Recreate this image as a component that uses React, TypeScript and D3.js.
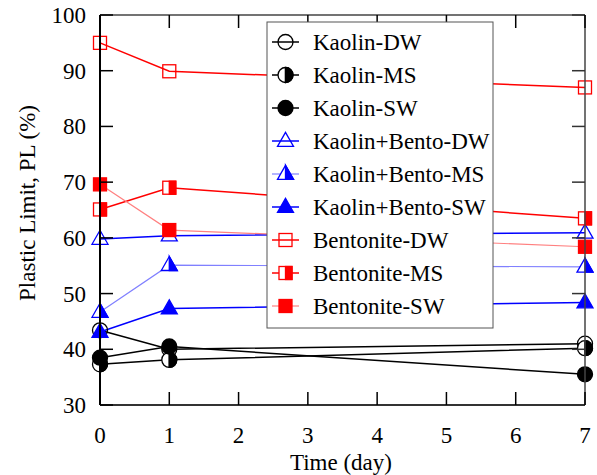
import React from "react";
import * as d3 from "d3";

const days = [0, 1, 7];
const xTicks = [0, 1, 2, 3, 4, 5, 6, 7];
const yTicks = [30, 40, 50, 60, 70, 80, 90, 100];

const kaolinDW = [43.4, 40.0, 41.0];
const kaolinMS = [37.3, 38.1, 40.2];
const kaolinSW = [38.5, 40.5, 35.5];
const kbDW = [59.8, 60.4, 60.9];
const kbMS = [46.7, 55.1, 54.8];
const kbSW = [43.1, 47.3, 48.4];
const benDW = [95.0, 89.9, 87.0];
const benMS = [65.1, 69.0, 63.5];
const benSW = [69.6, 61.4, 58.4];

type Shape = "circle" | "triangle" | "square";
type Fill = "open" | "half" | "full";

const series: { name: string; values: number[]; color: string; lineColor: string; lw: number; shape: Shape; fill: Fill }[] = [
  { name: "Kaolin-DW", values: kaolinDW, color: "#000", lineColor: "#000", lw: 1.5, shape: "circle", fill: "open" },
  { name: "Kaolin-MS", values: kaolinMS, color: "#000", lineColor: "#000", lw: 1.5, shape: "circle", fill: "half" },
  { name: "Kaolin-SW", values: kaolinSW, color: "#000", lineColor: "#000", lw: 1.5, shape: "circle", fill: "full" },
  { name: "Kaolin+Bento-DW", values: kbDW, color: "#0000ff", lineColor: "#0000ff", lw: 1.5, shape: "triangle", fill: "open" },
  { name: "Kaolin+Bento-MS", values: kbMS, color: "#0000ff", lineColor: "#8080ff", lw: 1.2, shape: "triangle", fill: "half" },
  { name: "Kaolin+Bento-SW", values: kbSW, color: "#0000ff", lineColor: "#0000ff", lw: 1.5, shape: "triangle", fill: "full" },
  { name: "Bentonite-DW", values: benDW, color: "#ff0000", lineColor: "#ff0000", lw: 1.5, shape: "square", fill: "open" },
  { name: "Bentonite-MS", values: benMS, color: "#ff0000", lineColor: "#ff0000", lw: 1.5, shape: "square", fill: "half" },
  { name: "Bentonite-SW", values: benSW, color: "#ff0000", lineColor: "#ff8080", lw: 1.2, shape: "square", fill: "full" },
];

const W = 597, H = 475;
const x = d3.scaleLinear().domain([0, 7]).range([100, 585]);
const y = d3.scaleLinear().domain([30, 100]).range([405, 15]);
const FONT = "'Liberation Serif', 'Times New Roman', serif";
const FS = 23;

function Marker({ cx, cy, shape, fill, color }: { cx: number; cy: number; shape: Shape; fill: Fill; color: string }) {
  const sw = 1.3;
  if (shape === "circle") {
    const r = 7.5;
    return (
      <g>
        <circle cx={cx} cy={cy} r={r} fill={fill === "full" ? color : fill === "half" ? "#fff" : "none"} stroke={color} strokeWidth={sw} />
        {fill === "half" && (
          <path d={`M${cx},${cy - r} A${r},${r} 0 0 1 ${cx},${cy + r} Z`} fill={color} stroke={color} strokeWidth={sw} />
        )}
        {fill === "half" && <line x1={cx} x2={cx} y1={cy - r} y2={cy + r} stroke={color} strokeWidth={sw} />}
      </g>
    );
  }
  if (shape === "square") {
    const s = 13;
    return (
      <g>
        <rect x={cx - s / 2} y={cy - s / 2} width={s} height={s} fill={fill === "full" ? color : fill === "half" ? "#fff" : "none"} stroke={color} strokeWidth={sw} />
        {fill === "half" && <rect x={cx} y={cy - s / 2} width={s / 2} height={s} fill={color} stroke={color} strokeWidth={sw} />}
      </g>
    );
  }
  const w = 16, h = 14;
  const top = cy - h * 0.62, bot = cy + h * 0.38;
  return (
    <g>
      <path d={`M${cx},${top} L${cx + w / 2},${bot} L${cx - w / 2},${bot} Z`} fill={fill === "full" ? color : fill === "half" ? "#fff" : "none"} stroke={color} strokeWidth={sw} strokeLinejoin="miter" />
      {fill === "half" && <path d={`M${cx},${top} L${cx + w / 2},${bot} L${cx},${bot} Z`} fill={color} stroke={color} strokeWidth={sw} />}
    </g>
  );
}

export default function App() {
  const line = d3.line<number>().x((_, i) => x(days[i])).y((v) => y(v));
  const tickLen = 13;
  const legX = 267, legY = 22, legW = 226, legH = 306;
  const rowH = 33;
  return (
    <svg width={W} height={H} style={{ display: "block", position: "absolute", left: 0, top: 0, background: "#fff" }} fontFamily={FONT}>
      {series.map((s) => (
        <path key={s.name + "l"} d={line(s.values) || ""} fill="none" stroke={s.lineColor} strokeWidth={s.lw} />
      ))}
      {series.map((s) =>
        s.values.map((v, i) => (
          <Marker key={s.name + i} cx={x(days[i])} cy={y(v)} shape={s.shape} fill={s.fill} color={s.color} />
        ))
      )}
      <line x1={100} x2={585} y1={15} y2={15} stroke="#444" strokeWidth={1.5} />
      <line x1={585} x2={585} y1={15} y2={405} stroke="#444" strokeWidth={1.5} />
      <line x1={100} x2={100} y1={15} y2={405} stroke="#000" strokeWidth={2} />
      <line x1={100} x2={585} y1={405} y2={405} stroke="#333" strokeWidth={2} />
      {yTicks.map((t) => (
        <g key={"y" + t}>
          <line x1={100} x2={100 + tickLen} y1={y(t)} y2={y(t)} stroke="#000" strokeWidth={1.5} />
          <line x1={585} x2={585 - tickLen} y1={y(t)} y2={y(t)} stroke="#333" strokeWidth={1.5} />
          <text x={86} y={y(t)} dy="0.35em" textAnchor="end" fontSize={FS} fill="#000">{t}</text>
        </g>
      ))}
      {xTicks.map((t) => (
        <g key={"x" + t}>
          <line x1={x(t)} x2={x(t)} y1={405} y2={405 - tickLen} stroke="#000" strokeWidth={1.5} />
          <line x1={x(t)} x2={x(t)} y1={15} y2={15 + tickLen} stroke="#000" strokeWidth={1.5} />
          <text x={x(t)} y={435} dy="0.35em" textAnchor="middle" fontSize={FS} fill="#000">{t}</text>
        </g>
      ))}
      <text x={341} y={462} dy="0.35em" textAnchor="middle" fontSize={FS}>Time (day)</text>
      <text transform={`translate(27,203) rotate(-90)`} dy="0.35em" textAnchor="middle" fontSize={FS}>Plastic Limit, PL (%)</text>
      <rect x={legX} y={legY} width={legW} height={legH} fill="#fff" stroke="#555" strokeWidth={1} />
      {series.map((s, i) => {
        const cy = 42 + i * rowH;
        return (
          <g key={s.name + "leg"}>
            <line x1={272} x2={299} y1={cy} y2={cy} stroke={s.lineColor} strokeWidth={s.lw} />
            <Marker cx={285.5} cy={cy} shape={s.shape} fill={s.fill} color={s.color} />
            <text x={313} y={cy} dy="0.35em" fontSize={FS}>{s.name}</text>
          </g>
        );
      })}
    </svg>
  );
}
